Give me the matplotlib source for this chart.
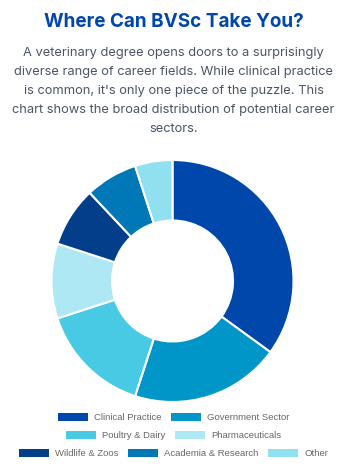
import matplotlib
matplotlib.use('Agg')
import matplotlib.pyplot as plt
from matplotlib.patches import Rectangle

# data
sectors = ['Clinical Practice', 'Government Sector', 'Poultry & Dairy', 'Pharmaceuticals',
           'Wildlife & Zoos', 'Academia & Research', 'Other']
shares = [35, 20, 15, 10, 8, 7, 5]
colors = ['#0047AB', '#0096C7', '#48CAE4', '#ADE8F4', '#023E8A', '#0077B6', '#90E0EF']
legend_rows = [[0, 1], [2, 3], [4, 5, 6]]

title = 'Where Can BVSc Take You?'
blurb = ["A veterinary degree opens doors to a surprisingly",
         "diverse range of career fields. While clinical practice",
         "is common, it's only one piece of the puzzle. This",
         "chart shows the broad distribution of potential career",
         "sectors."]

W, H = 347, 474
fig = plt.figure(figsize=(W / 100, H / 100), dpi=100)
fig.patch.set_facecolor('white')

def fx(px):
    return px / W

def fy(py):
    return 1 - py / H

fig.text(0.5, fy(22), title, ha='center', va='center', fontsize=13.6,
         fontweight='bold', color='#0047AB', family=['Inter', 'DejaVu Sans'])
for i, line in enumerate(blurb):
    fig.text(0.5, fy(53 + i * 19), line, ha='center', va='center', fontsize=9.25,
             color='#4B5563', family=['Inter', 'DejaVu Sans'])

# donut
cx, cy, r = 172.5, 281, 121
ax = fig.add_axes([fx(cx - r), fy(cy + r), 2 * r / W, 2 * r / H])
ax.pie(shares, colors=colors, startangle=90, counterclock=False, radius=1,
       wedgeprops=dict(width=0.5, edgecolor='white', linewidth=1.5))
ax.set_xlim(-1, 1)
ax.set_ylim(-1, 1)
ax.set_aspect('equal')
ax.axis('off')

# legend, centred row by row
fig.canvas.draw()
renderer = fig.canvas.get_renderer()
box_w, box_h, gap_txt, gap_item = 30.5, 8, 6, 9
row_y = [417, 435, 453]
for row, y in zip(legend_rows, row_y):
    widths = []
    for idx in row:
        t = fig.text(0, 0, sectors[idx], fontsize=6.8, family='Liberation Sans')
        widths.append(t.get_window_extent(renderer).width)
        t.remove()
    total = sum(box_w + gap_txt + w for w in widths) + gap_item * (len(row) - 1)
    x = W / 2 - total / 2
    for idx, w in zip(row, widths):
        fig.patches.append(Rectangle((fx(x), fy(y + box_h / 2)), box_w / W, box_h / H,
                                     transform=fig.transFigure, facecolor=colors[idx],
                                     edgecolor='none'))
        fig.text(fx(x + box_w + gap_txt), fy(y), sectors[idx], ha='left', va='center',
                 fontsize=6.8, color='#666666', family='Liberation Sans')
        x += box_w + gap_txt + w + gap_item

fig.savefig('out.png', dpi=100)
